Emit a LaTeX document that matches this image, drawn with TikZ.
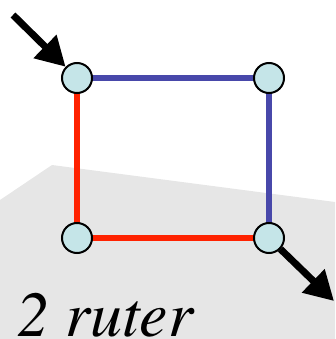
\documentclass[tikz,border=0pt]{standalone}
\usepackage[T1]{fontenc}
\usetikzlibrary{arrows.meta}
\definecolor{nodefill}{HTML}{C5E5E8}
\definecolor{redline}{HTML}{FF2200}
\definecolor{blueline}{HTML}{4848AA}
\definecolor{ground}{HTML}{E6E6E6}
\begin{document}
\begin{tikzpicture}[x=1pt,y=-1pt,
  router/.style={circle,draw=black,line width=2pt,fill=nodefill,minimum size=30pt,inner sep=0pt},
  redlink/.style={draw=redline,line width=6pt},
  bluelink/.style={draw=blueline,line width=5.5pt},
  bigarrow/.style={line width=7pt,-{Triangle[length=29pt,width=31pt]}}]
\useasboundingbox (0,0) rectangle (335,339);
\clip (0,0) rectangle (335,339);
\fill[ground] (0,200) -- (52,165) -- (335,202) -- (335,339) -- (0,339) -- cycle;
\coordinate (a) at (77,78);
\coordinate (b) at (269,78);
\coordinate (c) at (77,238);
\coordinate (d) at (269,238);
\draw[bluelink] (a) -- (b) -- (d);
\draw[redlink] (a) -- (c) -- (d);
\node[router] (na) at (a) {};
\node[router] (nb) at (b) {};
\node[router] (nc) at (c) {};
\node[router] (nd) at (d) {};
\coordinate (inS) at (13,15);
\coordinate (outE) at (334,301);
\draw[bigarrow] (inS) -- (na);
\draw[bigarrow] (nd) -- (outE);
\node[anchor=base west,inner sep=0pt,font=\fontfamily{ptm}\fontshape{it}\fontsize{64}{64}\selectfont] (lbl) at (17,336) {2 ruter};
\end{tikzpicture}
\end{document}
